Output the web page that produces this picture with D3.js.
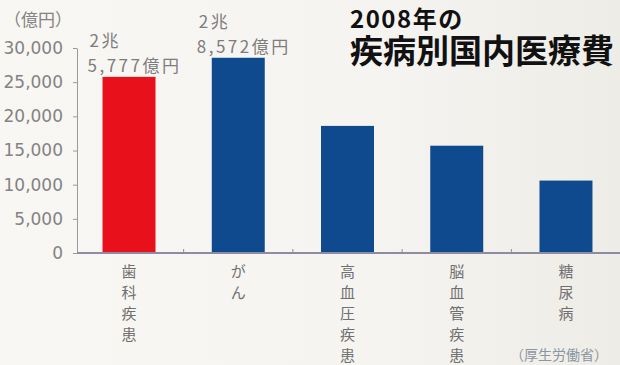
<!DOCTYPE html>
<html>
<head>
<meta charset="utf-8">
<script src="https://cdn.jsdelivr.net/npm/d3@7"></script>
<style>
  body { margin: 0; background: #f3f1ec; }
  svg { display: block; }
</style>
</head>
<body>
<div id="chart"></div>
<script>
// data (億円)
const categories = ["歯科疾患", "がん", "高血圧疾患", "脳血管疾患", "糖尿病"];
const values = [25777, 28572, 18600, 15700, 10600];
const barColors = ["#e8101a", "#0f4a8e", "#0f4a8e", "#0f4a8e", "#0f4a8e"];
const yTicks = [0, 5000, 10000, 15000, 20000, 25000, 30000];
const valueLabels = [["2兆", "5,777億円"], ["2兆", "8,572億円"], null, null, null];

const W = 620, H = 365;
const jp = "'Noto Sans CJK JP', sans-serif";

const svg = d3.select("#chart")
    .append("svg")
    .attr("width", W)
    .attr("height", H);

// background, slightly whiter on the left
const grad = svg.append("defs").append("linearGradient")
    .attr("id", "bg").attr("x1", 0).attr("x2", 1);
grad.append("stop").attr("offset", 0).attr("stop-color", "#f8f7f3");
grad.append("stop").attr("offset", 0.6).attr("stop-color", "#f6f4f0");
grad.append("stop").attr("offset", 1).attr("stop-color", "#eeece7");
svg.append("rect").attr("width", W).attr("height", H).attr("fill", "url(#bg)");

const x = d3.scaleBand()
    .domain(categories)
    .range([75, 620])
    .paddingInner(0.515)
    .paddingOuter(0.252);

const y = d3.scaleLinear()
    .domain([0, 30000])
    .range([253, 48]);

// y axis
const gy = svg.append("g")
    .attr("transform", "translate(77,0)")
    .call(d3.axisLeft(y).tickValues(yTicks).tickFormat(d3.format(",")).tickSize(4).tickSizeOuter(0).tickPadding(10));
gy.select(".domain").attr("stroke", "#9a9a9a");
gy.selectAll(".tick line").attr("stroke", "#9a9a9a");
gy.selectAll(".tick text")
    .attr("fill", "#838383")
    .style("font-family", "'DejaVu Sans', sans-serif")
    .style("font-size", "17px");

svg.append("text")
    .attr("x", 4)
    .attr("y", 26)
    .attr("fill", "#838383")
    .style("font-family", jp)
    .style("font-size", "17px")
    .text("（億円）");

// bars
svg.append("g")
    .selectAll("rect")
    .data(categories)
    .join("rect")
    .attr("x", d => x(d))
    .attr("y", (d, i) => y(values[i]))
    .attr("width", x.bandwidth())
    .attr("height", (d, i) => y(0) - y(values[i]))
    .attr("fill", (d, i) => barColors[i]);

// bottom axis line + small ticks between bars
svg.append("line")
    .attr("x1", 77).attr("x2", W)
    .attr("y1", y(0)).attr("y2", y(0))
    .attr("stroke", "#8d8ca3")
    .attr("stroke-width", 2);

const step = x.step();
svg.append("g")
    .selectAll("line")
    .data(categories.slice(1))
    .join("line")
    .attr("x1", d => x(d) - (step - x.bandwidth()) / 2)
    .attr("x2", d => x(d) - (step - x.bandwidth()) / 2)
    .attr("y1", y(0))
    .attr("y2", y(0) - 4)
    .attr("stroke", "#8d8ca3");

// value labels above first two bars
valueLabels.forEach((lab, i) => {
    if (!lab) return;
    svg.append("text")
        .attr("x", x(categories[i]) - 13)
        .attr("y", y(values[i]) - 30)
        .attr("fill", "#7d7d7d")
        .style("font-family", jp)
        .style("font-size", "17px")
        .style("letter-spacing", "2.5px")
        .text(lab[0]);
    svg.append("text")
        .attr("x", x(categories[i]) - 15)
        .attr("y", y(values[i]) - 5)
        .attr("fill", "#7d7d7d")
        .style("font-family", jp)
        .style("font-size", "17px")
        .style("letter-spacing", "2.5px")
        .text(lab[1]);
});

// vertical category labels, one character per line
svg.append("g")
    .selectAll("g")
    .data(categories)
    .join("g")
    .each(function (d) {
        const cx = x(d) + x.bandwidth() / 2;
        d3.select(this).selectAll("text")
            .data(Array.from(d))
            .join("text")
            .attr("x", cx)
            .attr("y", (c, j) => 277 + j * 21)
            .attr("text-anchor", "middle")
            .attr("fill", "#6f6f6f")
            .style("font-family", jp)
            .style("font-size", "15px")
            .text(c => c);
    });

// title
svg.append("text")
    .attr("x", 350)
    .attr("y", 28)
    .attr("fill", "#111")
    .style("font-family", jp)
    .style("font-weight", "bold")
    .style("font-size", "24px")
    .style("letter-spacing", "1.5px")
    .text("2008年の");
svg.append("text")
    .attr("x", 350)
    .attr("y", 63)
    .attr("fill", "#111")
    .style("font-family", jp)
    .style("font-weight", "bold")
    .style("font-size", "33px")
    .text("疾病別国内医療費");

// source
svg.append("text")
    .attr("x", 510)
    .attr("y", 360)
    .attr("fill", "#8a96a0")
    .style("font-family", jp)
    .style("font-size", "14px")
    .text("（厚生労働省）");
</script>
</body>
</html>
